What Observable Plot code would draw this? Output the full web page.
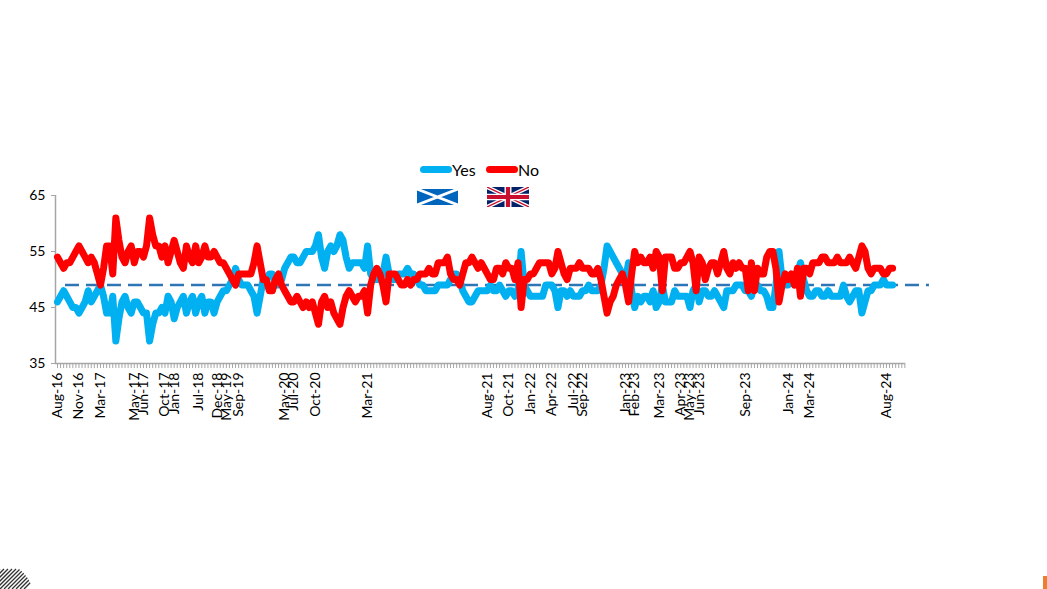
<!DOCTYPE html>
<html>
<head>
<meta charset="utf-8">
<script src="https://cdn.jsdelivr.net/npm/d3@7"></script>
<script src="https://cdn.jsdelivr.net/npm/@observablehq/plot@0.6"></script>
<style>
  body { margin: 0; background: #fff; font-family: Lato, "Open Sans", sans-serif; }
  #wrap { position: relative; width: 1047px; height: 589px; overflow: hidden; background: #fff; }
  #chart { position: absolute; left: 0; top: 0; }
  .abs { position: absolute; }
  .sw { position: absolute; height: 7px; border-radius: 4px; }
  .lt { position: absolute; font-size: 16px; line-height: 20px; color: #000; }
</style>
</head>
<body>
<div id="wrap">
  <div id="chart"></div>
  <div class="sw" style="left:420px;top:166px;width:32px;background:#00B0F0"></div>
  <div class="lt" style="left:452px;top:160px">Yes</div>
  <div class="sw" style="left:486px;top:166px;width:32px;background:#FF0000"></div>
  <div class="lt" style="left:518px;top:160px">No</div>
  <svg class="abs" style="left:417px;top:189px" width="41" height="16" viewBox="0 0 50 20" preserveAspectRatio="none">
    <rect width="50" height="20" fill="#0065BD"/>
    <path d="M0,0 L50,20 M50,0 L0,20" stroke="#fff" stroke-width="3.5"/>
  </svg>
  <svg class="abs" style="left:487px;top:187px" width="42" height="20" viewBox="0 0 60 30" preserveAspectRatio="none">
    <rect width="60" height="30" fill="#012169"/>
    <path d="M0,0 L60,30 M60,0 L0,30" stroke="#fff" stroke-width="6"/>
    <path d="M0,0 L60,30 M60,0 L0,30" stroke="#C8102E" stroke-width="2"/>
    <path d="M30,0 V30 M0,15 H60" stroke="#fff" stroke-width="10"/>
    <path d="M30,0 V30 M0,15 H60" stroke="#C8102E" stroke-width="6"/>
  </svg>
  <svg class="abs" style="left:0;top:568px" width="36" height="21">
    <defs><clipPath id="qc"><circle cx="0" cy="28" r="33"/></clipPath></defs>
    <g clip-path="url(#qc)" stroke="#333" stroke-width="1.3">
      <line x1="-20" y1="21" x2="0" y2="1"/>
      <line x1="-16" y1="21" x2="4" y2="1"/>
      <line x1="-12" y1="21" x2="8" y2="1"/>
      <line x1="-8" y1="21" x2="12" y2="1"/>
      <line x1="-4" y1="21" x2="16" y2="1"/>
      <line x1="0" y1="21" x2="20" y2="1"/>
      <line x1="4" y1="21" x2="24" y2="1"/>
      <line x1="8" y1="21" x2="28" y2="1"/>
      <line x1="12" y1="21" x2="32" y2="1"/>
      <line x1="16" y1="21" x2="36" y2="1"/>
      <line x1="20" y1="21" x2="40" y2="1"/>
      <line x1="24" y1="21" x2="44" y2="1"/>
    </g>
  </svg>
  <div class="abs" style="left:1043px;top:576px;width:4px;height:13px;background:#ED7D31"></div>
</div>
<script>
// Poll results (%), one value per poll, in order
const noValues = [
  54,53,52,53,53,54,55,56,55,54,
  53,54,53,51,49,52,56,56,51,61,
  57,54,53,55,56,53,55,55,54,56,
  61,58,56,56,54,56,53,55,57,55,
  53,52,56,54,53,56,53,54,56,54,
  54,55,54,53,53,52,51,50,49,51,
  51,51,51,51,53,56,53,50,50,48,
  48,50,51,49,48,47,46,46,47,46,
  45,46,45,46,44,42,46,47,45,46,
  44,43,42,45,47,48,47,46,47,47,
  48,44,49,51,52,51,49,46,51,51,
  51,50,49,49,50,49,50,50,51,51,
  51,52,51,51,53,53,53,54,51,50,
  50,49,51,53,53,54,53,52,53,52,
  51,50,50,52,52,51,53,52,52,50,
  53,45,50,50,51,51,52,53,53,53,
  53,51,52,55,53,51,50,52,52,52,
  53,52,52,52,51,51,52,50,47,44,
  46,47,49,50,51,49,46,51,55,53,
  54,53,53,54,52,55,54,48,54,54,
  54,52,52,53,53,54,55,53,48,54,
  53,50,52,53,53,51,53,55,52,51,
  53,52,53,52,52,48,53,48,52,51,
  51,54,55,55,52,46,49,51,50,51,
  49,52,47,52,52,51,53,53,53,54,
  54,53,53,53,54,53,53,53,54,53,
  52,54,56,55,52,51,52,52,52,51,
  51,52,52
];
const yesValues = [
  46,47,48,47,46,45,45,44,45,46,
  48,46,47,48,49,47,44,44,47,39,
  43,46,47,45,44,46,46,45,44,44,
  39,42,44,44,45,44,47,46,43,45,
  46,47,44,46,47,44,46,47,44,46,
  46,44,46,47,48,48,49,50,52,50,
  49,49,49,48,47,44,47,50,50,51,
  51,49,49,50,52,53,54,54,53,53,
  54,55,55,55,56,58,54,52,55,56,
  55,56,58,57,54,52,53,53,53,53,
  52,56,51,50,50,50,51,54,51,50,
  50,51,51,51,52,51,51,50,49,49,
  48,48,48,48,49,49,49,49,50,51,
  51,50,48,47,46,46,47,48,48,48,
  48,49,48,48,49,48,47,48,48,47,
  48,55,49,48,47,47,47,47,47,49,
  49,49,48,45,48,48,47,48,47,47,
  47,48,48,49,48,48,48,49,52,56,
  55,54,53,52,51,50,53,48,45,47,
  46,47,47,46,48,45,46,49,46,46,
  46,48,47,47,47,47,45,48,49,46,
  48,48,47,47,48,47,46,45,48,48,
  48,49,49,49,48,48,47,49,49,48,
  48,47,45,45,49,55,50,49,49,50,
  50,51,53,50,48,47,47,48,48,47,
  47,48,47,47,47,47,49,47,46,47,
  48,48,44,46,48,48,49,49,49,50,
  49,49,49
];
// Category labels shown on the axis: [label, poll index]
const tickLabels = [
  ["Aug-16",0],["Nov-16",7],["Mar-17",14],["May-17",25],["Jun-17",28],
  ["Oct-17",35],["Jan-18",38],["Jul-18",46],["Dec-18",52],["May-19",55],
  ["Sep-19",59],["May-20",74],["Jul-20",77],["Oct-20",84],["Mar-21",101],
  ["Aug-21",140],["Oct-21",147],["Jan-22",154],["Apr-22",161],["Jul-22",168],
  ["Sep-22",171],["Jan-23",185],["Feb-23",188],["Mar-23",196],["Apr-23",203],
  ["May-23",206],["Jun-23",209],["Sep-23",224],["Jan-24",238],["Mar-24",245],
  ["Aug-24",270]
];
const yTicks = [35, 45, 55, 65];
const categoryCount = 277;
const refLevel = 49;
const refSpan = [2.6, 284];

const data = yesValues.map((v, i) => ({i, yes: v, no: noValues[i]}));
const labelMap = new Map(tickLabels.map(([l, i]) => [i, l]));
const xDomain = [-0.65, 276.2];
const axisGrey = "#a6a6a6";

const chart = Plot.plot({
  width: 1047,
  height: 589,
  marginLeft: 55,
  marginRight: 142,
  marginTop: 195,
  marginBottom: 226,
  style: {fontFamily: "Lato, 'Open Sans', sans-serif", fontSize: "14px", color: "#000", background: "transparent", overflow: "visible"},
  x: {domain: xDomain, axis: null},
  y: {domain: [35, 65], axis: null},
  marks: [
    Plot.axisX({anchor: "bottom", label: null, ticks: d3.range(0, categoryCount), tickSize: 5, tickPadding: 4, tickRotate: -90,
      tickFormat: d => labelMap.get(d) ?? "", stroke: axisGrey, fill: "#000", fontSize: 14}),
    Plot.axisY({anchor: "left", label: null, ticks: yTicks, tickSize: 4, tickPadding: 6, stroke: axisGrey, fill: "#000", fontSize: 14}),
    Plot.ruleY([35], {stroke: axisGrey, strokeWidth: 1.5}),
    Plot.ruleX([xDomain[0]], {stroke: axisGrey, strokeWidth: 1.5}),
    Plot.ruleY([refLevel], {x1: refSpan[0], x2: refSpan[1], stroke: "#2E75B6", strokeWidth: 2.5, strokeDasharray: "14,7"}),
    Plot.line(data, {x: "i", y: "yes", stroke: "#00B0F0", strokeWidth: 7, strokeLinejoin: "round", strokeLinecap: "round"}),
    Plot.line(data, {x: "i", y: "no", stroke: "#FF0000", strokeWidth: 7, strokeLinejoin: "round", strokeLinecap: "round"})
  ]
});
document.getElementById("chart").appendChild(chart);
</script>
</body>
</html>
